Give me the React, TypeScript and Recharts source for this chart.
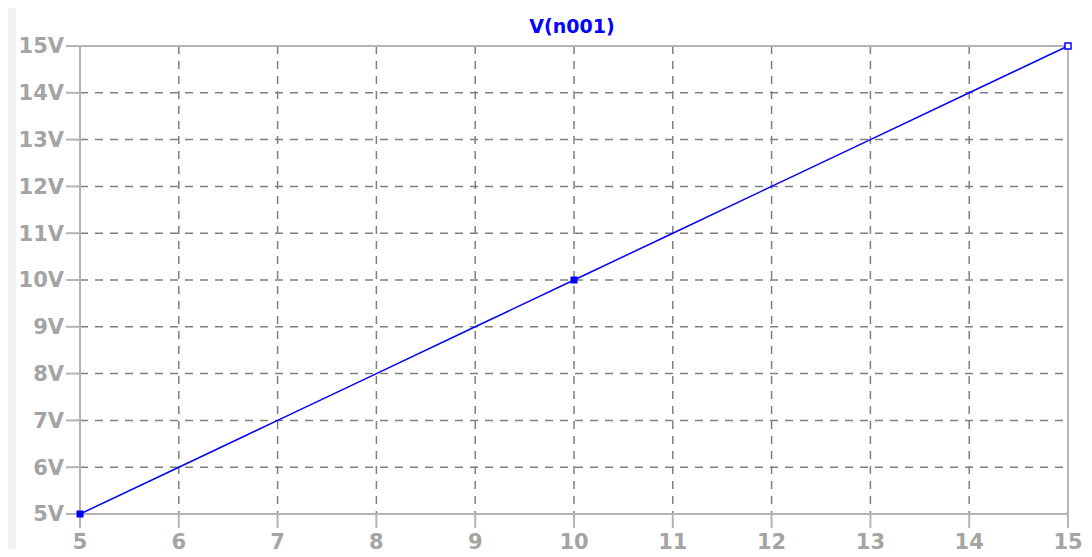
import { LineChart, Line, XAxis, YAxis, CartesianGrid, ReferenceLine } from 'recharts';

const sweep = [5, 6, 7, 8, 9, 10, 11, 12, 13, 14, 15];
const voltage = [5, 6, 7, 8, 9, 10, 11, 12, 13, 14, 15];
const xTicks = [5, 6, 7, 8, 9, 10, 11, 12, 13, 14, 15];
const yTicks = [5, 6, 7, 8, 9, 10, 11, 12, 13, 14, 15];
const seriesName = 'V(n001)';

const data = sweep.map((x, i) => ({ x, v: voltage[i] }));

const axisGray = '#b4b4b4';
const labelGray = '#a4a4a4';
const tickFont = { fill: labelGray, fontSize: 21, fontWeight: 700, fontFamily: 'DejaVu Sans' };

function Marker(props: any) {
  const { cx, cy, payload } = props;
  if (payload.x === 15) {
    return <rect key="m15" x={cx - 3} y={cy - 3} width={6} height={6} fill="#ffffff" stroke="#0000ff" strokeWidth={1.5} />;
  }
  if (payload.x === 5 || payload.x === 10) {
    return <rect key={`m${payload.x}`} x={cx - 3.5} y={cy - 3.5} width={7} height={7} fill="#0000ff" />;
  }
  return <g key={`n${payload.x}`} />;
}

export default function App() {
  return (
    <div style={{ position: 'relative', margin: -8, width: 1092, height: 557, background: '#f4f1f1', overflow: 'hidden' }}>
      <div style={{ position: 'absolute', left: 16, top: 8, right: 0, bottom: 0, background: '#ffffff' }} />
      <div
        style={{
          position: 'absolute',
          left: 0,
          top: 15,
          width: 1092,
          textAlign: 'center',
          paddingLeft: 52,
          boxSizing: 'border-box',
          color: '#0000ff',
          fontFamily: 'DejaVu Sans',
          fontWeight: 700,
          fontSize: 19,
        }}
      >
        {seriesName}
      </div>
      <div style={{ position: 'absolute', left: 0, top: 0 }}>
        <LineChart width={1092} height={557} data={data} margin={{ top: 46, right: 24, left: 0, bottom: 0 }}>
          <CartesianGrid stroke="#808080" strokeWidth={1.5} strokeDasharray="8 7" />
          <XAxis
            dataKey="x"
            type="number"
            domain={[5, 15]}
            ticks={xTicks}
            height={43}
            tickSize={14}
            tickMargin={6}
            tick={tickFont}
            axisLine={{ stroke: axisGray, strokeWidth: 2 }}
            tickLine={{ stroke: axisGray, strokeWidth: 2 }}
          />
          <YAxis
            type="number"
            domain={[5, 15]}
            ticks={yTicks}
            width={80}
            tickSize={14}
            tick={tickFont}
            tickFormatter={(v: number) => `${v}V`}
            axisLine={{ stroke: axisGray, strokeWidth: 2 }}
            tickLine={{ stroke: axisGray, strokeWidth: 2 }}
          />
          <ReferenceLine y={15} stroke={axisGray} strokeWidth={2} />
          <ReferenceLine x={15} stroke={axisGray} strokeWidth={2} />
          <Line
            type="linear"
            dataKey="v"
            stroke="#0000ff"
            strokeWidth={1.5}
            dot={Marker}
            activeDot={false}
            isAnimationActive={false}
          />
        </LineChart>
      </div>
    </div>
  );
}
